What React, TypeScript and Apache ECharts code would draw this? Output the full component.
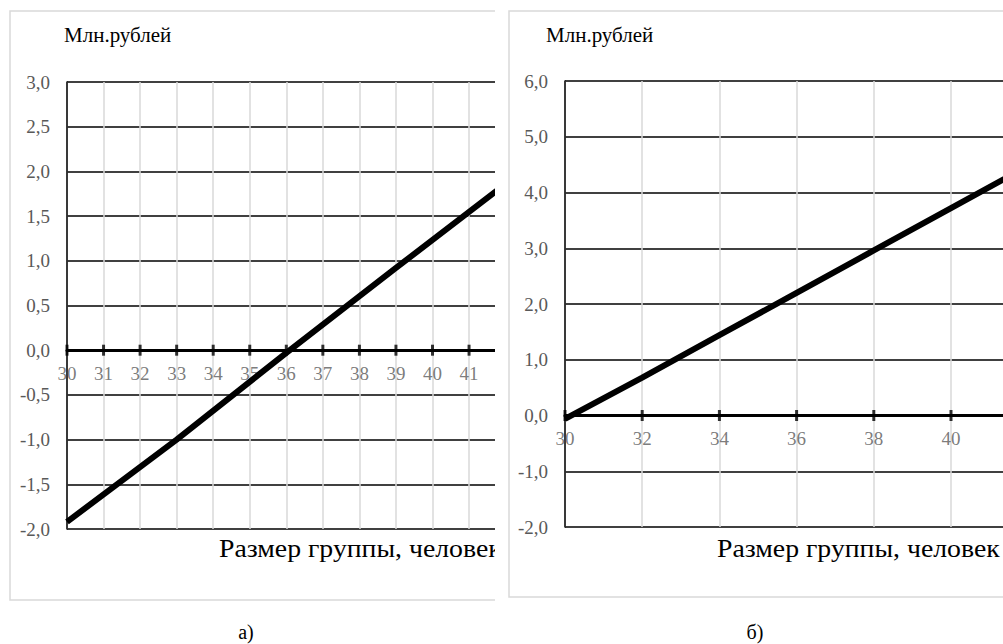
import React, { useEffect, useRef } from "react";
import * as echarts from "echarts";

// ---- data ----
const leftX = [30, 33, 36, 39, 42];
const leftY = [-1.92, -1.0, -0.03, 0.92, 1.86];
const rightX = [30, 32, 34, 36, 38, 40, 42];
const rightY = [-0.06, 0.68, 1.44, 2.2, 2.96, 3.72, 4.48];

const leftTicks = [30, 31, 32, 33, 34, 35, 36, 37, 38, 39, 40, 41, 42];
const rightTicks = [30, 32, 34, 36, 38, 40, 42];
const leftXRange = [30, 42, 1];
const leftYRange = [-2, 3, 0.5];
const rightXRange = [30, 42, 2];
const rightYRange = [-2, 6, 1];

const yAxisTitle = "Млн.рублей";
const xAxisTitle = "Размер группы, человек";
const captions = ["а)", "б)"];

const FONT = "Liberation Serif";

type Cfg = {
  xs: number[];
  ys: number[];
  ticks: number[];
  xr: number[];
  yr: number[];
  gridLeft: number;
  gridTop: number;
  unitX: number;
  gridHeight: number;
  panelX: number;
  panelH: number;
  yTitleX: number;
  xTitleX: number;
  captionX: number;
  caption: string;
};

function buildOption(c: Cfg) {
  return {
    animation: false,
    backgroundColor: "#fff",
    textStyle: { fontFamily: FONT },
    grid: {
      left: c.gridLeft,
      top: c.gridTop,
      width: (c.xr[1] - c.xr[0]) * c.unitX,
      height: c.gridHeight,
    },
    xAxis: {
      type: "value",
      min: c.xr[0],
      max: c.xr[1],
      interval: c.xr[2],
      axisLine: { show: true, onZero: true, lineStyle: { color: "#000", width: 3 } },
      axisTick: { show: false },
      axisLabel: { show: false },
      splitLine: { show: true, lineStyle: { color: "#d9d9d9", width: 1.5 } },
    },
    yAxis: {
      type: "value",
      min: c.yr[0],
      max: c.yr[1],
      interval: c.yr[2],
      axisLine: { show: true, onZero: false, lineStyle: { color: "#000", width: 1.5 } },
      axisTick: { show: false },
      axisLabel: {
        color: "#595959",
        fontFamily: FONT,
        fontSize: 19,
        margin: 17,
        formatter: (v: number) => v.toFixed(1).replace(".", ","),
      },
      splitLine: { show: true, lineStyle: { color: "#000", width: 1.5 } },
    },
    series: [
      {
        type: "scatter",
        data: c.ticks.map((t) => [t, 0]),
        symbol: "rect",
        symbolSize: [3, 11],
        itemStyle: { color: "#000" },
        label: {
          show: true,
          position: "bottom",
          distance: 8,
          color: "#595959",
          fontFamily: FONT,
          fontSize: 19,
          formatter: (p: any) => String(p.value[0]),
        },
        silent: true,
        clip: false,
        z: 3,
      },
      {
        type: "line",
        data: c.xs.map((x, i) => [x, c.ys[i]]),
        symbol: "none",
        lineStyle: { color: "#000", width: 6 },
        clip: true,
        z: 5,
      },
    ],
    graphic: [
      {
        type: "rect",
        silent: true,
        shape: { x: c.panelX, y: 11, width: 1200, height: c.panelH },
        style: { fill: "none", stroke: "#d9d9d9", lineWidth: 1.5 },
      },
      {
        type: "text",
        x: c.yTitleX,
        y: 35,
        style: { text: yAxisTitle, fill: "#000", fontFamily: FONT, fontSize: 21, align: "left", verticalAlign: "middle" },
      },
      {
        type: "text",
        x: c.xTitleX,
        y: 548,
        scaleX: 1.11,
        style: { text: xAxisTitle, fill: "#000", fontFamily: FONT, fontSize: 25, align: "left", verticalAlign: "middle" },
      },
      {
        type: "text",
        x: c.captionX,
        y: 632,
        style: { text: c.caption, fill: "#000", fontFamily: FONT, fontSize: 20, align: "center", verticalAlign: "middle" },
      },
    ],
  };
}

function Chart({ left, width, innerWidth, cfg }: { left: number; width: number; innerWidth: number; cfg: Cfg }) {
  const ref = useRef<HTMLDivElement>(null);
  useEffect(() => {
    if (!ref.current) return;
    const chart = echarts.init(ref.current, undefined, { renderer: "svg" });
    chart.setOption(buildOption(cfg) as any);
    return () => chart.dispose();
  }, []);
  return (
    <div style={{ position: "absolute", left, top: 0, width, height: 644, overflow: "hidden" }}>
      <div ref={ref} style={{ width: innerWidth, height: 644 }} />
    </div>
  );
}

export default function App() {
  const leftCfg: Cfg = {
    xs: leftX,
    ys: leftY,
    ticks: leftTicks,
    xr: leftXRange,
    yr: leftYRange,
    gridLeft: 67,
    gridTop: 82,
    unitX: 36.55,
    gridHeight: 447,
    panelX: 10,
    panelH: 589,
    yTitleX: 64,
    xTitleX: 219,
    captionX: 246,
    caption: captions[0],
  };
  const rightCfg: Cfg = {
    xs: rightX,
    ys: rightY,
    ticks: rightTicks,
    xr: rightXRange,
    yr: rightYRange,
    gridLeft: 68,
    gridTop: 81,
    unitX: 38.6,
    gridHeight: 446,
    panelX: 12,
    panelH: 586,
    yTitleX: 49,
    xTitleX: 220,
    captionX: 258,
    caption: captions[1],
  };
  return (
    <div style={{ position: "absolute", left: 0, top: 0, width: 1003, height: 644, background: "#fff", overflow: "hidden" }}>
      <Chart left={0} width={495} innerWidth={560} cfg={leftCfg} />
      <Chart left={497} width={506} innerWidth={580} cfg={rightCfg} />
    </div>
  );
}
